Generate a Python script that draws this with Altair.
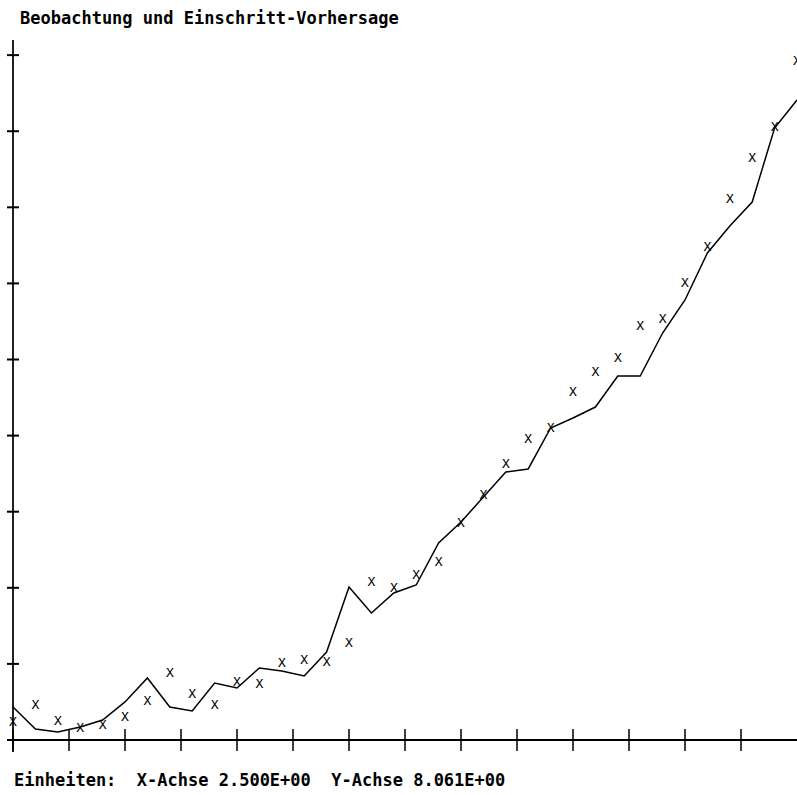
import altair as alt
import pandas as pd

# time index (one observation per unit)
t = list(range(36))

beobachtung = [1.91, 3.71, 2.01, 1.27, 1.59, 2.44, 4.13, 7.10, 4.87, 3.71,
               6.14, 5.93, 8.16, 8.47, 8.26, 10.27, 16.74, 16.10, 17.48, 18.85,
               22.99, 25.95, 29.24, 31.88, 33.05, 36.86, 38.98, 40.46, 43.85, 44.60,
               48.41, 52.22, 57.31, 61.65, 64.93, 71.92]

# one-step forecast (line)
vorhersage = [3.50, 1.17, 0.85, 1.38, 2.12, 4.03, 6.57, 3.50, 3.07, 6.04,
              5.51, 7.63, 7.31, 6.78, 9.32, 16.21, 13.45, 15.57, 16.42, 20.87,
              23.09, 25.74, 28.39, 28.71, 33.05, 34.11, 35.27, 38.56, 38.56, 43.11,
              46.61, 51.59, 54.45, 56.99, 64.83, 67.79]

# tick positions (X unit 2.5, Y unit 8.061)
x_ticks = [0, 2.5, 5, 7.5, 10, 12.5, 15, 17.5, 20, 22.5, 25, 27.5, 30, 32.5]
y_ticks = [0, 8.061, 16.122, 24.183, 32.244, 40.305, 48.366, 56.427, 64.488, 72.549]

NB = "\u00a0"
title_text = "Beobachtung und Einschritt-Vorhersage"
footer_text = ("Einheiten:" + NB * 2 + "X-Achse" + NB + "2.500E+00"
               + NB * 2 + "Y-Achse" + NB + "8.061E+00")

df = pd.DataFrame({"t": t, "obs": beobachtung, "pred": vorhersage})
dfx = pd.DataFrame({"xt": x_ticks})
dfy = pd.DataFrame({"yt": y_ticks})

xs = alt.Scale(domain=[0, 35], nice=False, zero=False)
ys = alt.Scale(domain=[0, 74.15], nice=False, zero=False)

FONT = "DejaVu Sans Mono"

base = alt.Chart(df)

line = base.mark_line(color="black", strokeWidth=1.5).encode(
    x=alt.X("t:Q", scale=xs, axis=None),
    y=alt.Y("pred:Q", scale=ys, axis=None),
)

marks = base.mark_text(text="X", font=FONT, fontSize=13, color="black",
                       align="center", baseline="middle").encode(
    x=alt.X("t:Q", scale=xs, axis=None),
    y=alt.Y("obs:Q", scale=ys, axis=None),
)

x_axis_line = base.mark_rule(color="black", strokeWidth=2).encode(
    y=alt.Y(datum=0, scale=ys, axis=None),
    x=alt.value(-6), x2=alt.value(784),
)

y_axis_line = base.mark_rule(color="#222222", strokeWidth=1.5).encode(
    x=alt.X(datum=0, scale=xs, axis=None),
    y=alt.value(0), y2=alt.value(712),
)

x_tick_marks = alt.Chart(dfx).mark_rule(color="black", strokeWidth=1.5).encode(
    x=alt.X("xt:Q", scale=xs, axis=None),
    y=alt.value(689), y2=alt.value(711),
)

y_tick_marks = alt.Chart(dfy).mark_rule(color="black", strokeWidth=2).encode(
    y=alt.Y("yt:Q", scale=ys, axis=None),
    x=alt.value(-6), x2=alt.value(6),
)

title = alt.Chart(pd.DataFrame({"s": [title_text]})).mark_text(
    font=FONT, fontSize=17, fontWeight="bold", color="black",
    align="left", baseline="alphabetic").encode(
    text="s:N", x=alt.value(7), y=alt.value(-16),
)

footer = alt.Chart(pd.DataFrame({"s": [footer_text]})).mark_text(
    font=FONT, fontSize=17, fontWeight="bold", color="black",
    align="left", baseline="alphabetic").encode(
    text="s:N", x=alt.value(1), y=alt.value(746),
)

chart = alt.layer(
    x_axis_line, y_axis_line, x_tick_marks, y_tick_marks, line, marks, title, footer
).properties(
    width=784,
    height=700,
    padding={"left": 13, "top": 40, "right": 0, "bottom": 55},
    autosize=alt.AutoSizeParams(type="none"),
    background="white",
).configure_view(stroke=None)

chart.save("out.html", embed_options={"renderer": "svg", "actions": False})
